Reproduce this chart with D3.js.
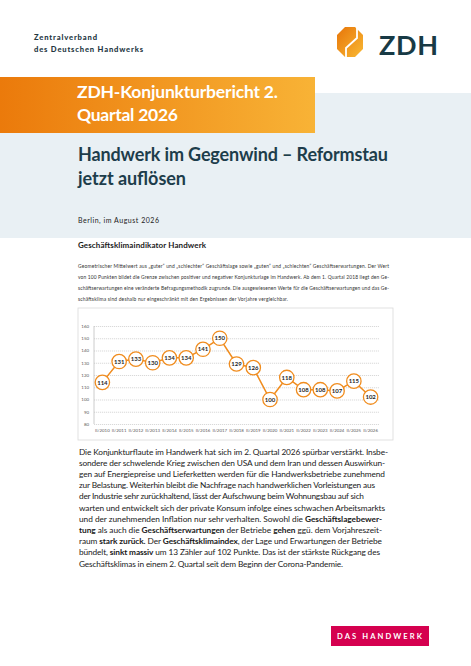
<!DOCTYPE html>
<html lang="de">
<head>
<meta charset="utf-8">
<title>ZDH-Konjunkturbericht 2. Quartal 2026</title>
<script src="https://d3js.org/d3.v7.min.js"></script>
<style>
  body { margin: 0; background: #fff; }
  svg { display: block; font-family: Lato, "Open Sans", sans-serif; }
</style>
</head>
<body>
<div id="page"></div>
<script>
// chart data
var quarters = ["II/2010", "II/2011", "II/2012", "II/2013", "II/2014", "II/2015", "II/2016", "II/2017", "II/2018",
                "II/2019", "II/2020", "II/2021", "II/2022", "II/2023", "II/2024", "II/2025", "II/2026"];
var klima = [114, 131, 133, 130, 134, 134, 141, 150, 129, 126, 100, 118, 108, 108, 107, 115, 102];
var yTicks = [80, 90, 100, 110, 120, 130, 140, 150, 160];

// page text
var introLines = [
  "Geometrischer Mittelwert aus „guter“ und „schlechter“ Geschäftslage sowie „guten“ und „schlechten“ Geschäftserwartungen. Der Wert",
  "von 100 Punkten bildet die Grenze zwischen positiver und negativer Konjunkturlage im Handwerk. Ab dem 1. Quartal 2018 liegt den Ge-",
  "schäftserwartungen eine veränderte Befragungsmethodik zugrunde. Die ausgewiesenen Werte für die Geschäftserwartungen und das Ge-",
  "schäftsklima sind deshalb nur eingeschränkt mit den Ergebnissen der Vorjahre vergleichbar."
];
var introWidths = [311, 311, 311, 210];

// segments: [text, bold]
var bodyLines = [
  [["Die Konjunkturflaute im Handwerk hat sich im 2. Quartal 2026 spürbar verstärkt. Insbe-", 0]],
  [["sondere der schwelende Krieg zwischen den USA und dem Iran und dessen Auswirkun-", 0]],
  [["gen auf Energiepreise und Lieferketten werden für die Handwerksbetriebe zunehmend", 0]],
  [["zur Belastung. Weiterhin bleibt die Nachfrage nach handwerklichen Vorleistungen aus", 0]],
  [["der Industrie sehr zurückhaltend, lässt der Aufschwung beim Wohnungsbau auf sich", 0]],
  [["warten und entwickelt sich der private Konsum infolge eines schwachen Arbeitsmarkts", 0]],
  [["und der zunehmenden Inflation nur sehr verhalten. Sowohl die ", 0], ["Geschäftslagebewer-", 1]],
  [["tung", 1], [" als auch die ", 0], ["Geschäftserwartungen", 1], [" der Betriebe ", 0], ["gehen", 1], [" ggü. dem Vorjahreszeit-", 0]],
  [["raum ", 0], ["stark zurück.", 1], [" Der ", 0], ["Geschäftsklimaindex", 1], [", der Lage und Erwartungen der Betriebe", 0]],
  [["bündelt, ", 0], ["sinkt massiv", 1], [" um 13 Zähler auf 102 Punkte. Das ist der stärkste Rückgang des", 0]],
  [["Geschäftsklimas in einem 2. Quartal seit dem Beginn der Corona-Pandemie.", 0]]
];
var bodyWidths = [309, 306, 306, 296, 285, 306, 303, 303, 303, 301, 264];

var W = 471, H = 666;
var orange = "#f08c1e";

var svg = d3.select("#page").append("svg")
    .attr("width", W)
    .attr("height", H);

var defs = svg.append("defs");
var bannerGrad = defs.append("linearGradient").attr("id", "bannerGrad");
bannerGrad.append("stop").attr("offset", "0%").attr("stop-color", "#eb7a0b");
bannerGrad.append("stop").attr("offset", "100%").attr("stop-color", "#f8b336");
var logoGrad = defs.append("linearGradient").attr("id", "logoGrad")
    .attr("x1", "0%").attr("y1", "0%").attr("x2", "100%").attr("y2", "100%");
logoGrad.append("stop").attr("offset", "0%").attr("stop-color", "#e77509");
logoGrad.append("stop").attr("offset", "100%").attr("stop-color", "#f9b934");

// header
svg.append("text").attr("x", 34).attr("y", 40).attr("textLength", 63)
    .attr("font-size", 7.6).attr("font-weight", 900).attr("fill", "#24363f")
    .text("Zentralverband");
svg.append("text").attr("x", 34).attr("y", 52).attr("textLength", 109)
    .attr("font-size", 7.6).attr("font-weight", 900).attr("fill", "#24363f")
    .text("des Deutschen Handwerks");

// ZDH logo
var lx0 = 337, lx1 = 363, ly0 = 27, ly1 = 57, c = 8;
svg.append("polygon")
    .attr("points", [[lx0 + c, ly0], [lx1 - c, ly0], [lx1, ly0 + c], [lx1, ly1 - c],
                     [lx1 - c, ly1], [lx0 + c, ly1], [lx0, ly1 - c], [lx0, ly0 + c]].join(" "))
    .attr("fill", "url(#logoGrad)");
svg.append("polyline")
    .attr("points", "357,27 357,38 346,48 346,57")
    .attr("fill", "none").attr("stroke", "#fff").attr("stroke-width", 1.8);
svg.append("text").attr("x", 379).attr("y", 55).attr("textLength", 59)
    .attr("font-size", 27).attr("font-weight", "bold").attr("fill", "#183a45")
    .text("ZDH");

// light band + banner
svg.append("rect").attr("x", 0).attr("y", 93).attr("width", W).attr("height", 145).attr("fill", "#e9f0f4");
svg.append("rect").attr("x", 0).attr("y", 77).attr("width", 315).attr("height", 56).attr("fill", "url(#bannerGrad)");
svg.append("text").attr("x", 77).attr("y", 98).attr("textLength", 201)
    .attr("font-size", 17.5).attr("font-weight", "bold").attr("fill", "#fff")
    .text("ZDH-Konjunkturbericht 2.");
svg.append("text").attr("x", 77).attr("y", 121).attr("textLength", 101)
    .attr("font-size", 17.5).attr("font-weight", "bold").attr("fill", "#fff")
    .text("Quartal 2026");

// headline
svg.append("text").attr("x", 78).attr("y", 161).attr("textLength", 310)
    .attr("font-size", 18).attr("font-weight", "bold").attr("fill", "#1d3d4b")
    .text("Handwerk im Gegenwind – Reformstau");
svg.append("text").attr("x", 78).attr("y", 185).attr("textLength", 108)
    .attr("font-size", 18).attr("font-weight", "bold").attr("fill", "#1d3d4b")
    .text("jetzt auflösen");
svg.append("text").attr("x", 78).attr("y", 223).attr("textLength", 81)
    .attr("font-size", 7).attr("fill", "#222")
    .text("Berlin, im August 2026");

// chart heading + intro
svg.append("text").attr("x", 78).attr("y", 248).attr("textLength", 128)
    .attr("font-size", 8).attr("font-weight", "bold").attr("fill", "#1a1a1a")
    .text("Geschäftsklimaindikator Handwerk");
svg.selectAll(".intro").data(introLines).enter().append("text")
    .attr("class", "intro")
    .attr("x", 78)
    .attr("y", function(d, i) { return 267.5 + i * 11; })
    .attr("textLength", function(d, i) { return introWidths[i]; })
    .attr("font-size", 4.9).attr("fill", "#333")
    .text(function(d) { return d; });

// chart box
svg.append("rect").attr("x", 78).attr("y", 308).attr("width", 315).attr("height", 132)
    .attr("fill", "#fff").attr("stroke", "#d9d9d9").attr("stroke-width", 0.8);

var plot = {left: 94, right: 379, top: 326, bottom: 424};

var x = d3.scaleBand()
    .domain(quarters)
    .range([plot.left, plot.right])
    .padding(0);
var cx = function(d) { return x(d) + x.bandwidth() / 2; };

var y = d3.scaleLinear()
    .domain([80, 160])
    .range([plot.bottom, plot.top]);

var yAxis = svg.append("g")
    .attr("transform", "translate(" + plot.left + ",0)")
    .call(d3.axisLeft(y).tickValues(yTicks).tickSize(-(plot.right - plot.left)).tickPadding(5));
yAxis.select(".domain").remove();
yAxis.selectAll(".tick line")
    .attr("stroke", "#bfbfbf").attr("stroke-width", 0.6).attr("stroke-dasharray", "1.2,0.8");
yAxis.selectAll(".tick text")
    .attr("font-size", 4.4).attr("fill", "#595959").attr("font-family", "Lato, sans-serif");

svg.append("line")
    .attr("x1", plot.left).attr("x2", plot.left)
    .attr("y1", plot.top).attr("y2", plot.bottom)
    .attr("stroke", "#bfbfbf").attr("stroke-width", 0.8);

var xAxis = svg.append("g")
    .attr("transform", "translate(0," + plot.bottom + ")")
    .call(d3.axisBottom(x).tickSize(0).tickPadding(4.5));
xAxis.select(".domain").remove();
xAxis.selectAll(".tick text")
    .attr("font-size", 4.4).attr("fill", "#595959").attr("font-family", "Lato, sans-serif");

var line = d3.line()
    .x(function(d, i) { return cx(quarters[i]); })
    .y(function(d) { return y(d); });

svg.append("path")
    .datum(klima)
    .attr("d", line)
    .attr("fill", "none")
    .attr("stroke", orange)
    .attr("stroke-width", 1.5);

var pts = svg.selectAll(".pt")
    .data(klima)
    .enter().append("g")
    .attr("class", "pt")
    .attr("transform", function(d, i) { return "translate(" + cx(quarters[i]) + "," + y(d) + ")"; });
pts.append("circle")
    .attr("r", 7.2)
    .attr("fill", "#fff")
    .attr("stroke", orange)
    .attr("stroke-width", 1.3);
pts.append("text")
    .attr("text-anchor", "middle")
    .attr("dy", "0.36em")
    .attr("font-size", 6)
    .attr("font-weight", "bold")
    .attr("fill", "#262626")
    .text(function(d) { return d; });

// body text
var body = svg.selectAll(".body").data(bodyLines).enter().append("text")
    .attr("class", "body")
    .attr("x", 79)
    .attr("y", function(d, i) { return 454.5 + i * 11.2; })
    .attr("textLength", function(d, i) { return bodyWidths[i]; })
    .attr("font-size", 8.3)
    .attr("fill", "#1a1a1a");
body.selectAll("tspan")
    .data(function(d) { return d; })
    .enter().append("tspan")
    .attr("font-weight", function(d) { return d[1] ? "bold" : "normal"; })
    .text(function(d) { return d[0]; });

// footer logo
svg.append("rect").attr("x", 331).attr("y", 626).attr("width", 98).attr("height", 20).attr("fill", "#d5004f");
svg.append("text").attr("x", 337).attr("y", 638.5).attr("textLength", 85)
    .attr("font-size", 7.6).attr("font-weight", "bold").attr("fill", "#fff")
    .text("DAS HANDWERK");
</script>
</body>
</html>
